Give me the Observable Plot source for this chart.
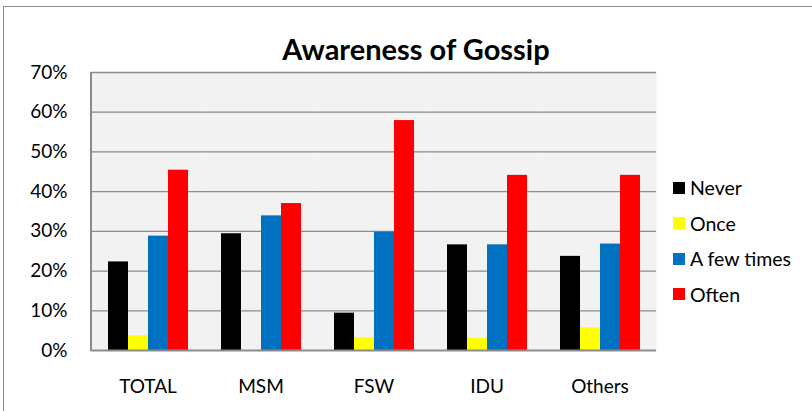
<!DOCTYPE html>
<html>
<head>
<meta charset="utf-8">
<script src="https://cdn.jsdelivr.net/npm/d3@7"></script>
<script src="https://cdn.jsdelivr.net/npm/@observablehq/plot@0.6"></script>
<style>
  html, body { margin: 0; padding: 0; background: #fff; }
  #wrap { position: relative; width: 812px; height: 411px; overflow: hidden; font-family: Lato, "Noto Sans", sans-serif; }
  #chart { position: absolute; left: 0; top: 0; }
  #border { position: absolute; left: 3px; top: 6px; width: 820px; height: 420px; border: 1.7px solid #8c8c8c; box-sizing: border-box; }
  #yline { position: absolute; left: 90px; top: 72px; width: 1.5px; height: 279px; background: #8c8c8c; }
  #title { position: absolute; left: 0; top: 34px; width: 832px; text-align: center; font-weight: 700; font-size: 29px; color: #000; line-height: 1; }
  #legend { position: absolute; left: 673px; top: 170px; }
  .item { display: flex; align-items: center; height: 35.5px; font-size: 19.5px; color: #000; }
  .sw { width: 12px; height: 12px; margin-right: 5px; }
</style>
</head>
<body>
<div id="wrap">
  <div id="border"></div>
  <div id="chart"></div>
  <div id="yline"></div>
  <div id="title">Awareness of Gossip</div>
  <div id="legend"></div>
</div>
<script>
const groups = ["TOTAL", "MSM", "FSW", "IDU", "Others"];
const series = ["Never", "Once", "A few times", "Often"];
const colors = ["#000000", "#ffff00", "#0070c0", "#ff0000"];
const never    = [0.223, 0.294, 0.094, 0.266, 0.237];
const once     = [0.037, 0.000, 0.032, 0.030, 0.057];
const fewTimes = [0.288, 0.339, 0.298, 0.266, 0.268];
const often    = [0.454, 0.370, 0.579, 0.441, 0.441];
const yTicks = [0, 0.1, 0.2, 0.3, 0.4, 0.5, 0.6, 0.7];

const seriesValues = [never, once, fewTimes, often];
const rows = [];
groups.forEach((g, gi) => {
  series.forEach((s, si) => rows.push({group: g, series: s, value: seriesValues[si][gi]}));
});

const plot = Plot.plot({
  width: 812,
  height: 411,
  marginLeft: 91,
  marginRight: 156,
  marginTop: 72,
  marginBottom: 61,
  style: {fontFamily: "Lato, 'Noto Sans', sans-serif", fontSize: "19px", color: "#000", background: "transparent"},
  facet: {data: rows, x: "group"},
  fx: {domain: groups, padding: 0, axis: "bottom", tickSize: 0, tickPadding: 29, label: null},
  x: {domain: series, paddingInner: 0, paddingOuter: 0.755, axis: null},
  y: {domain: [0, 0.7], ticks: yTicks, tickFormat: d3.format(".0%"), tickSize: 0, tickPadding: 24, label: null},
  color: {domain: series, range: colors},
  marks: [
    Plot.frame({fill: "#f2f2f2", stroke: "none"}),
    Plot.ruleY(yTicks.filter(v => v > 0), {stroke: "#8c8c8c", strokeWidth: 1.3}),
    Plot.barY(rows, {x: "series", y: "value", fill: "series"}),
    Plot.ruleY([0], {stroke: "#8c8c8c", strokeWidth: 2})
  ]
});
document.getElementById("chart").appendChild(plot);

const legend = document.getElementById("legend");
series.forEach((s, i) => {
  const it = document.createElement("div");
  it.className = "item";
  it.innerHTML = `<div class="sw" style="background:${colors[i]}"></div><span>${s}</span>`;
  legend.appendChild(it);
});
</script>
</body>
</html>
